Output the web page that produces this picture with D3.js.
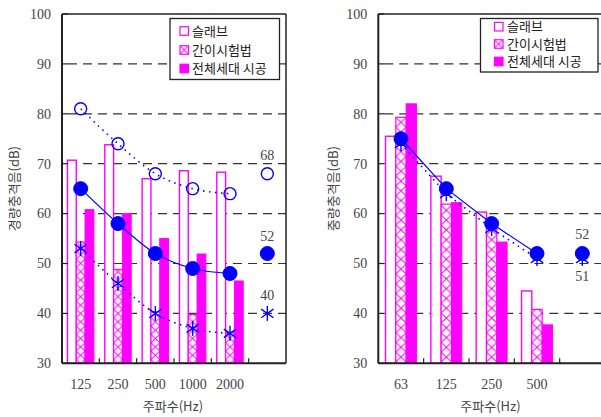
<!DOCTYPE html>
<html><head><meta charset="utf-8">
<script src="https://cdn.jsdelivr.net/npm/d3@7"></script>
<style>
html,body{margin:0;padding:0;background:#fff;}
svg{display:block;}
</style>
</head><body>
<svg id="chart" width="601" height="417"></svg>
<script>
// ---------- data ----------
const legendLabels = ["슬래브", "간이시험법", "전체세대 시공"];
const yTicks = [30, 40, 50, 60, 70, 80, 90, 100];

const leftCats = ["125", "250", "500", "1000", "2000"];
const leftSlab = [70.7, 73.8, 67.0, 68.6, 68.3];
const leftSimple = [54.3, 48.8, 40.3, 39.8, 36.2];
const leftWhole = [60.8, 60.0, 55.0, 51.9, 46.5];
const leftOpen = [81, 74, 68, 65, 64];
const leftOpenAvg = 68;
const leftFilled = [65, 58, 52, 49, 48];
const leftFilledAvg = 52;
const leftStar = [53, 46, 40, 37, 36];
const leftStarAvg = 40;

const rightCats = ["63", "125", "250", "500"];
const rightSlab = [75.5, 67.5, 60.3, 44.5];
const rightSimple = [79.3, 61.9, 57.5, 40.8];
const rightWhole = [82.0, 62.2, 54.3, 37.7];
const rightFilled = [75, 65, 58, 52];
const rightFilledAvg = 52;
const rightStar = [74, 64, 57, 51];
const rightStarAvg = 51;

const xTitle = "주파수(Hz)";
const leftYTitle = "경량충격음(dB)";
const rightYTitle = "중량충격음(dB)";

// ---------- styles ----------
const MAG = "#ff00ff";
const BLUE = "#0000ff";
const GRAY = "#444";
const numFont = "'Liberation Serif','DejaVu Serif',serif";
const krFont = "'Noto Sans CJK KR','Noto Sans',sans-serif";

const svg = d3.select("#chart");
const defs = svg.append("defs");
const yTop = 14, yBot = 363.3;
const y = d3.scaleLinear().domain([30, 100]).range([yBot, yTop]);

let patCount = 0;
function hatchPattern(x0, y0, w, h) {
  const id = "hatch" + (patCount++);
  const p = defs.append("pattern").attr("id", id)
    .attr("patternUnits", "userSpaceOnUse")
    .attr("x", x0).attr("y", y0).attr("width", w).attr("height", h);
  p.append("rect").attr("width", w).attr("height", h).attr("fill", "#fff");
  p.append("path").attr("d", `M0,0L${w},${h}M${w},0L0,${h}`)
    .attr("stroke", MAG).attr("stroke-width", 1).attr("fill", "none");
  return "url(#" + id + ")";
}

function asterisk(g, cx, cy, r) {
  const a = [90, 35, 145];
  a.forEach(d => {
    const rad = d * Math.PI / 180;
    g.append("line")
      .attr("x1", cx - r * Math.cos(rad)).attr("y1", cy - r * Math.sin(rad))
      .attr("x2", cx + r * Math.cos(rad)).attr("y2", cy + r * Math.sin(rad))
      .attr("stroke", BLUE).attr("stroke-width", 1.4);
  });
}

function drawPanel(opt) {
  const cats = opt.cats.concat(["avg"]);
  const x = d3.scaleBand().domain(cats).range([opt.x0, opt.x1]).padding(0);
  const g = svg.append("g");

  // grid
  yTicks.filter(v => v > 30 && v < 100).forEach(v => {
    g.append("line").attr("x1", opt.x0).attr("x2", opt.x1)
      .attr("y1", y(v)).attr("y2", y(v))
      .attr("stroke", "#333").attr("stroke-width", 1.2)
      .attr("stroke-dasharray", "9,6").attr("stroke-dashoffset", -6);
  });

  const bw = opt.bw;
  const cx = d => x(d) + x.bandwidth() / 2;
  // bars
  opt.cats.forEach((c, i) => {
    const c0 = cx(c);
    const xs = [c0 - 1.5 * bw, c0 - 0.5 * bw, c0 + 0.5 * bw];
    g.append("rect").attr("x", xs[0]).attr("y", y(opt.slab[i]))
      .attr("width", bw).attr("height", yBot - y(opt.slab[i]))
      .attr("fill", "#fff").attr("stroke", MAG).attr("stroke-width", 1.4);
    g.append("rect").attr("x", xs[1]).attr("y", y(opt.simple[i]))
      .attr("width", bw).attr("height", yBot - y(opt.simple[i]))
      .attr("fill", hatchPattern(xs[1], 0, bw, bw * 0.95)).attr("stroke", MAG).attr("stroke-width", 1.2);
    g.append("rect").attr("x", xs[2]).attr("y", y(opt.whole[i]))
      .attr("width", bw).attr("height", yBot - y(opt.whole[i]))
      .attr("fill", MAG).attr("stroke", MAG).attr("stroke-width", 1);
  });

  // lines
  const line = d3.line().x(d => cx(d[0])).y(d => y(d[1])).curve(opt.curve);
  opt.series.forEach(s => {
    const pts = opt.cats.map((c, i) => [c, s.values[i]]);
    g.append("path").attr("d", line(pts)).attr("fill", "none")
      .attr("stroke", BLUE).attr("stroke-width", s.dash ? 1.6 : 1.2)
      .attr("stroke-dasharray", s.dash ? "1.5,4.5" : null);
  });
  // markers
  opt.series.forEach(s => {
    const all = opt.cats.map((c, i) => [c, s.values[i]]).concat([["avg", s.avg]]);
    all.forEach(d => {
      const px = cx(d[0]), py = y(d[1]);
      if (s.type === "open") {
        g.append("circle").attr("cx", px).attr("cy", py).attr("r", 6)
          .attr("fill", "none").attr("stroke", BLUE).attr("stroke-width", 1.4);
      } else if (s.type === "filled") {
        g.append("circle").attr("cx", px).attr("cy", py).attr("r", 7)
          .attr("fill", BLUE).attr("stroke", BLUE);
      } else {
        asterisk(g, px, py, 7.5);
      }
    });
    if (s.label) {
      g.append("text").attr("x", cx("avg")).attr("y", y(s.avg) + s.label.dy)
        .attr("text-anchor", "middle").attr("font-family", numFont)
        .attr("font-size", 14).attr("fill", GRAY).text(s.avg);
    }
  });

  // frame / axes
  g.append("line").attr("x1", opt.x0).attr("x2", opt.x0).attr("y1", yTop).attr("y2", yBot)
    .attr("stroke", "#222").attr("stroke-width", 2);
  g.append("line").attr("x1", opt.x0).attr("x2", opt.x1).attr("y1", yTop).attr("y2", yTop)
    .attr("stroke", "#222").attr("stroke-width", 1.5);
  g.append("line").attr("x1", opt.x0).attr("x2", opt.x1).attr("y1", yBot).attr("y2", yBot)
    .attr("stroke", "#222").attr("stroke-width", 2);
  g.append("line").attr("x1", opt.x1).attr("x2", opt.x1).attr("y1", yTop).attr("y2", yBot)
    .attr("stroke", "#222").attr("stroke-width", 1.5);

  // y ticks
  yTicks.forEach(v => {
    g.append("line").attr("x1", opt.x0).attr("x2", opt.x0 + 6)
      .attr("y1", y(v)).attr("y2", y(v)).attr("stroke", "#222").attr("stroke-width", 1.2);
    g.append("text").attr("x", opt.x0 - 11).attr("y", y(v) + 4.8)
      .attr("text-anchor", "end").attr("font-family", numFont).attr("font-size", 14)
      .attr("fill", GRAY).text(v);
  });
  // x ticks (band boundaries)
  cats.slice(1).forEach(c => {
    g.append("line").attr("x1", x(c)).attr("x2", x(c)).attr("y1", yBot).attr("y2", yBot - 5)
      .attr("stroke", "#222").attr("stroke-width", 1.2);
  });
  opt.cats.forEach(c => {
    g.append("text").attr("x", cx(c)).attr("y", 388.5).attr("text-anchor", "middle")
      .attr("font-family", numFont).attr("font-size", 14).attr("fill", GRAY).text(c);
  });
  // titles
  g.append("text").attr("x", opt.xTitleX).attr("y", 411).attr("text-anchor", "middle")
    .attr("font-family", krFont).attr("font-size", 13).attr("fill", GRAY).text(xTitle);
  g.append("text").attr("transform", `translate(${opt.yTitleX},${(yTop + yBot) / 2}) rotate(-90)`)
    .attr("text-anchor", "middle").attr("dy", "0.35em")
    .attr("font-family", krFont).attr("font-size", 13).attr("fill", GRAY).text(opt.yTitle);

  // legend
  const L = opt.legend;
  g.append("rect").attr("x", L.x).attr("y", L.y).attr("width", L.w).attr("height", L.h)
    .attr("fill", "#fff").attr("stroke", "#222").attr("stroke-width", 1.3);
  legendLabels.forEach((t, i) => {
    const ry = L.rows[i];
    const s = 8.5;
    const r = g.append("rect").attr("x", L.sx).attr("y", ry - s / 2).attr("width", s).attr("height", s)
      .attr("stroke", MAG).attr("stroke-width", 1.2);
    if (i === 0) r.attr("fill", "#fff");
    else if (i === 1) r.attr("fill", hatchPattern(L.sx, ry - s / 2, s, s));
    else r.attr("fill", MAG);
    g.append("text").attr("x", L.tx).attr("y", ry).attr("dy", "0.36em")
      .attr("font-family", krFont).attr("font-size", 13).attr("fill", "#222").text(t);
  });
}

drawPanel({
  name: "L", cats: leftCats, x0: 62, x1: 286, bw: 8.8, curve: d3.curveMonotoneX,
  slab: leftSlab, simple: leftSimple, whole: leftWhole,
  series: [
    {type: "open", values: leftOpen, avg: leftOpenAvg, dash: true, label: {dy: -14}},
    {type: "star", values: leftStar, avg: leftStarAvg, dash: true, label: {dy: -13}},
    {type: "filled", values: leftFilled, avg: leftFilledAvg, dash: false, label: {dy: -13}}
  ],
  xTitleX: 173, yTitleX: 14, yTitle: leftYTitle,
  legend: {x: 170, y: 18.5, w: 109.5, h: 61, sx: 180, tx: 192, rows: [31, 50, 68.5]}
});

drawPanel({
  name: "R", cats: rightCats, x0: 378.3, x1: 605, bw: 10.3, curve: d3.curveLinear,
  slab: rightSlab, simple: rightSimple, whole: rightWhole,
  series: [
    {type: "star", values: rightStar, avg: rightStarAvg, dash: true, label: {dy: 22}},
    {type: "filled", values: rightFilled, avg: rightFilledAvg, dash: false, label: {dy: -15}}
  ],
  xTitleX: 490.5, yTitleX: 333, yTitle: rightYTitle,
  legend: {x: 480.5, y: 18.5, w: 117.5, h: 53.5, sx: 494.5, tx: 507, rows: [26.7, 44, 61.5]}
});
</script>
</body></html>
